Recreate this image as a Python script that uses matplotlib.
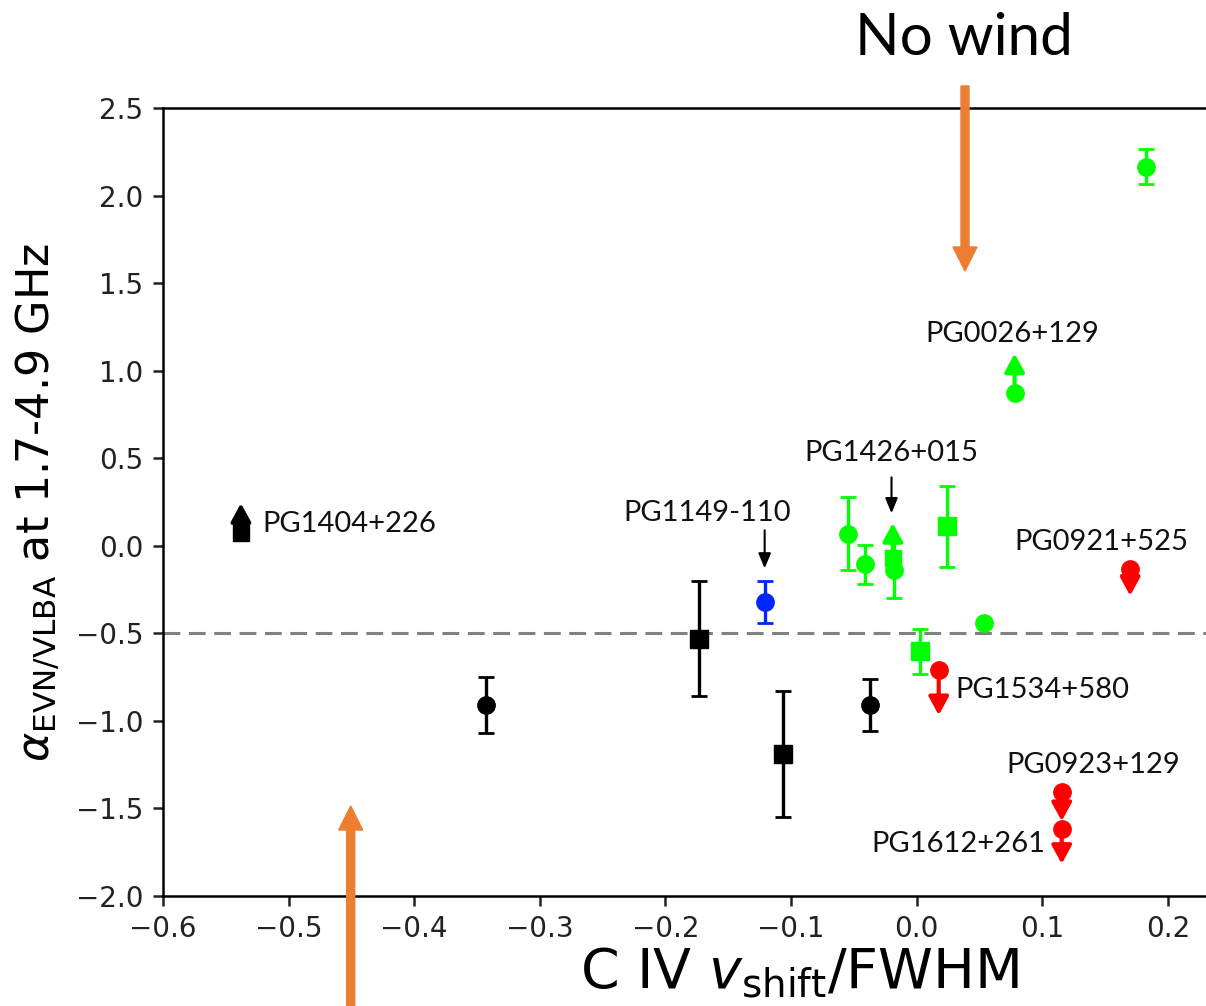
import numpy as np
import matplotlib
matplotlib.use("Agg")
import matplotlib.pyplot as plt
from matplotlib.ticker import MultipleLocator
from matplotlib.patches import FancyArrow

# Sources with measured spectral index (x = C IV shift/FWHM, y = alpha, err = 1 sigma)
black_circ_x = [-0.343, -0.037]
black_circ_y = [-0.91, -0.91]
black_circ_err = [0.16, 0.15]

black_sq_x = [-0.173, -0.106]
black_sq_y = [-0.53, -1.19]
black_sq_err = [0.33, 0.36]

blue_circ_x = [-0.121]
blue_circ_y = [-0.32]
blue_circ_err = [0.12]

green_circ_x = [-0.055, -0.041, -0.018, 0.183]
green_circ_y = [0.07, -0.106, -0.136, 2.165]
green_circ_err = [0.21, 0.11, 0.16, 0.10]

green_circ_noerr_x = [0.054]
green_circ_noerr_y = [-0.44]

green_sq_x = [0.024, 0.003]
green_sq_y = [0.111, -0.603]
green_sq_err = [0.23, 0.13]

# Lower limits (arrow up) and upper limits (arrow down)
lower_names = ["PG1404+226", "PG0026+129", "PG1426+015"]
lower_x = [-0.538, 0.078, -0.019]
lower_y = [0.073, 0.873, -0.07]
lower_marker = ["s", "o", "s"]
lower_color = ["black", "#00ff00", "#00ff00"]
lower_arrow = [0.17, 0.225, 0.20]

upper_names = ["PG0921+525", "PG1534+580", "PG0923+129", "PG1612+261"]
upper_x = [0.170, 0.0176, 0.1155, 0.1155]
upper_y = [-0.130, -0.707, -1.407, -1.616]
upper_arrow = [0.155, 0.26, 0.165, 0.20]

# Label positions for named sources
label_text = ["PG1404+226", "PG1149-110", "PG1426+015", "PG0026+129",
              "PG0921+525", "PG1534+580", "PG0923+129", "PG1612+261"]
label_x = [-0.521, -0.167, -0.020, 0.0765, 0.147, 0.0306, 0.1407, 0.0332]
label_y = [0.123, 0.19, 0.53, 1.21, 0.022, -0.826, -1.254, -1.702]
label_ha = ["left", "center", "center", "center", "center", "left", "center", "center"]

orange = "#ed7d31"
ms = 12.5
eb_kw = dict(linestyle="none", elinewidth=2.4, capsize=5.5, capthick=2.0, markersize=ms)

fig = plt.figure(figsize=(12.06, 10.06), dpi=100)
ax = fig.add_axes([0.1352, 0.1093, 0.8748, 0.7833])

ax.axhline(-0.5, color="#808080", lw=2.2, linestyle=(0, (5.5, 2.8)), zorder=1)

ax.errorbar(black_circ_x, black_circ_y, yerr=black_circ_err, fmt="o", color="black", **eb_kw)
ax.errorbar(black_sq_x, black_sq_y, yerr=black_sq_err, fmt="s", color="black", **eb_kw)
ax.errorbar(blue_circ_x, blue_circ_y, yerr=blue_circ_err, fmt="o", color="#0026ff", **eb_kw)
ax.errorbar(green_circ_x, green_circ_y, yerr=green_circ_err, fmt="o", color="#00ff00", **eb_kw)
ax.errorbar(green_sq_x, green_sq_y, yerr=green_sq_err, fmt="s", color="#00ff00", **eb_kw)
ax.plot(green_circ_noerr_x, green_circ_noerr_y, "o", color="#00ff00", markersize=ms)

limit_arrow = dict(arrowstyle="-|>,head_width=0.3,head_length=0.55",
                   mutation_scale=20, lw=3, shrinkA=0, shrinkB=0)

for x, y, m, c, d in zip(lower_x, lower_y, lower_marker, lower_color, lower_arrow):
    ax.plot(x, y, m, color=c, markersize=ms if m == "o" else ms - 1, zorder=3)
    ax.annotate("", xy=(x, y + d), xytext=(x, y),
                arrowprops=dict(color=c, **limit_arrow), zorder=3)

for x, y, d in zip(upper_x, upper_y, upper_arrow):
    ax.plot(x, y, "o", color="red", markersize=ms, zorder=3)
    ax.annotate("", xy=(x, y - d), xytext=(x, y),
                arrowprops=dict(color="red", **limit_arrow), zorder=3)

for t, x, y, ha in zip(label_text, label_x, label_y, label_ha):
    ax.text(x, y, t, ha=ha, va="center", fontsize=21, family="Lato", color="#111111")

# pointer arrows for crowded sources
pointer = dict(arrowstyle="-|>,head_width=0.25,head_length=0.6",
               mutation_scale=15, lw=1.5, color="black", shrinkA=0, shrinkB=0)
ax.annotate("", xy=(-0.121, -0.129), xytext=(-0.121, 0.089), arrowprops=pointer)
ax.annotate("", xy=(-0.020, 0.186), xytext=(-0.020, 0.391), arrowprops=pointer)

ax.set_xlim(-0.6, 0.24)
ax.set_ylim(-2.0, 2.5)
ax.xaxis.set_major_locator(MultipleLocator(0.1))
ax.yaxis.set_major_locator(MultipleLocator(0.5))
ax.tick_params(labelsize=20, length=7, width=1.8, pad=7, colors="#222222")
for s in ax.spines.values():
    s.set_linewidth(1.8)
ax.spines["right"].set_visible(False)

ax.set_xlabel(r"C IV $v_{\rm shift}$/FWHM", fontsize=40)
ax.xaxis.set_label_coords(0.603, -0.063)
ax.set_ylabel(r"$\alpha_{\rm EVN/VLBA}$ at 1.7-4.9 GHz", fontsize=32, labelpad=10)

# wind / no-wind indicators in figure pixels
inch = fig.dpi_scale_trans
fig.add_artist(FancyArrow(9.65, 9.20, 0, -1.85, width=0.08, head_width=0.24, head_length=0.24,
                          length_includes_head=True, color=orange, transform=inch))
fig.add_artist(FancyArrow(3.507, -0.2, 0, 2.2, width=0.08, head_width=0.24, head_length=0.24,
                          length_includes_head=True, color=orange, transform=inch))
fig.text(964 / 1206, 1 - 55 / 1006, "No wind", ha="center", va="baseline",
         fontsize=42, family="Lato")

fig.savefig("out.png", dpi=100)
